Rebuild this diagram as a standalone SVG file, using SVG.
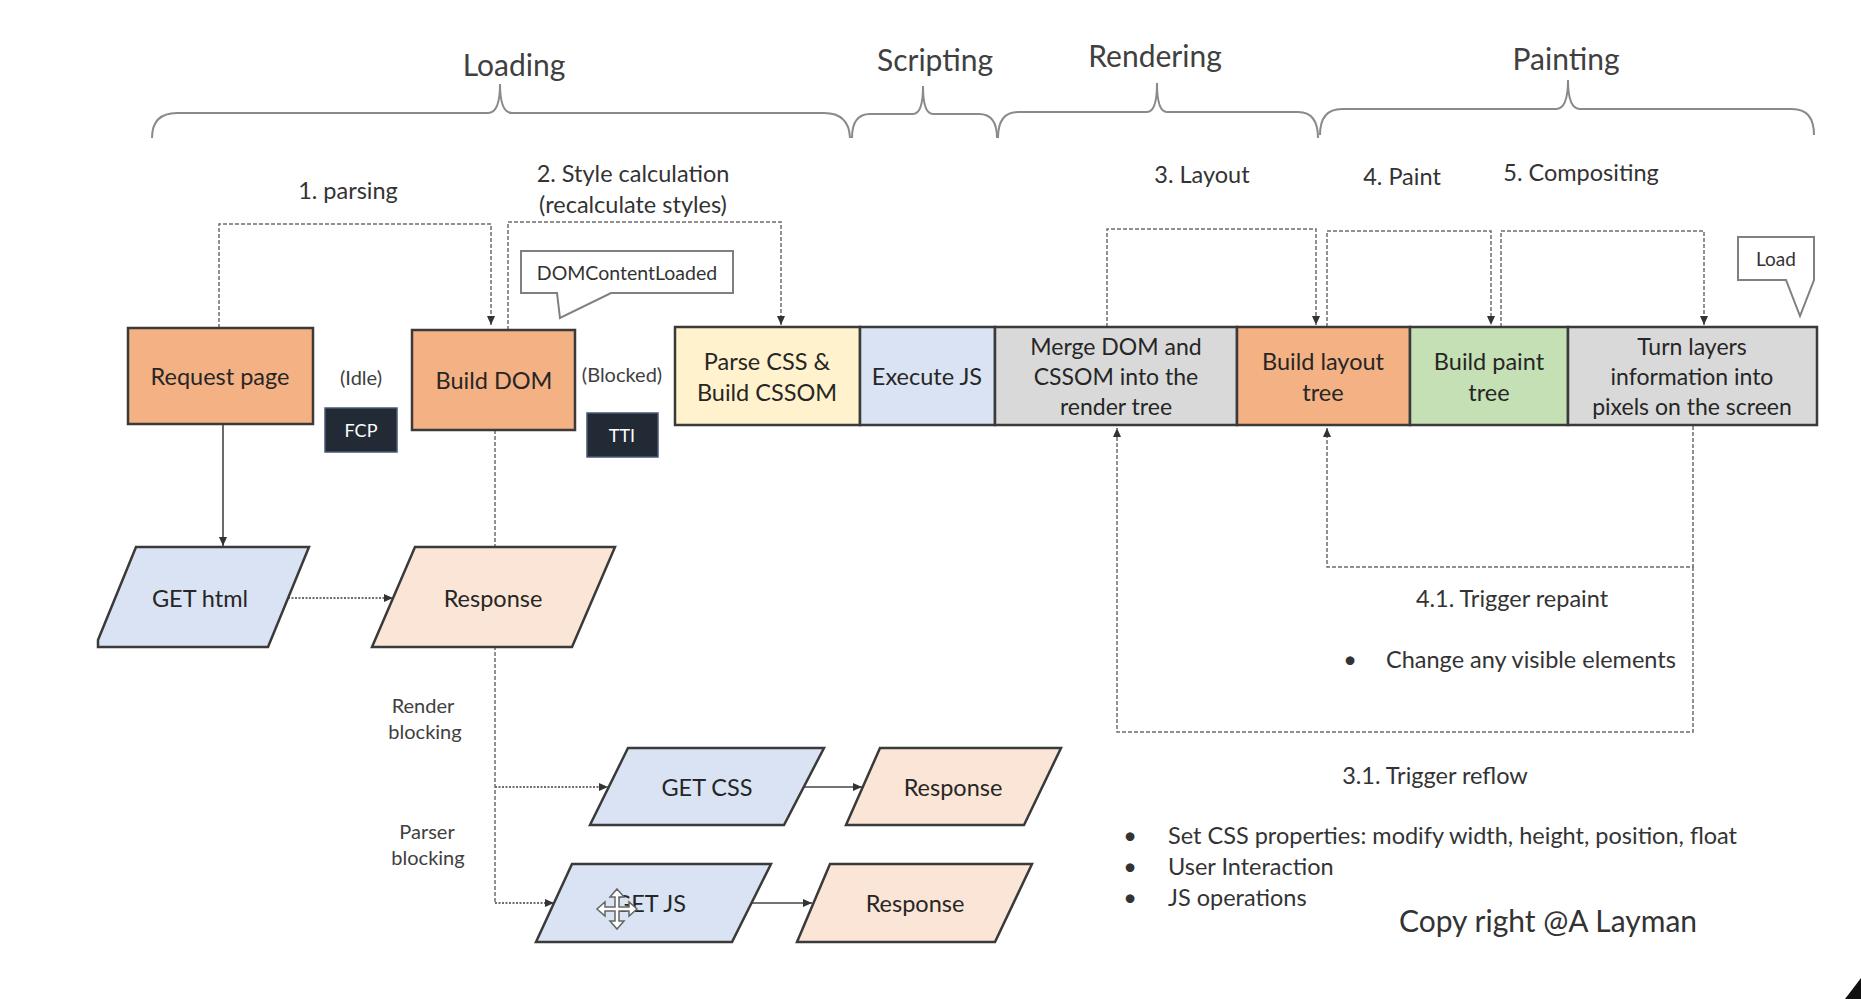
<svg xmlns="http://www.w3.org/2000/svg" width="1861" height="999" viewBox="0 0 1861 999">
<style>
text{font-family:Lato,"Open Sans","Liberation Sans",sans-serif;fill:#262626;}
.hdr{font-size:30px;fill:#404040;text-anchor:middle;dominant-baseline:central;}
.ph{font-size:23.5px;fill:#333;text-anchor:middle;dominant-baseline:central;}
.lbl{font-size:23.5px;text-anchor:middle;dominant-baseline:central;}
.sm{font-size:20px;fill:#404040;text-anchor:middle;dominant-baseline:central;}
.note{font-size:23.5px;fill:#333;dominant-baseline:central;}
.brace{fill:none;stroke:#8a8a8a;stroke-width:2;}
.box{stroke:#3a3a3a;stroke-width:2.5;}
.para{stroke:#3a3a3a;stroke-width:2.5;}
.dash{fill:none;stroke:#6e6e6e;stroke-width:1.5;stroke-dasharray:4 2;}
.dot{fill:none;stroke:#6e6e6e;stroke-width:2;stroke-dasharray:2 1.5;}
.solid{fill:none;stroke:#444;stroke-width:1.6;}
.call{fill:#fff;stroke:#808080;stroke-width:2;}
.orange{fill:#F4B183;}
.yellow{fill:#FFF2CC;}
.blue{fill:#DAE3F3;}
.gray{fill:#D9D9D9;}
.green{fill:#C5E0B4;}
.peach{fill:#FBE5D6;}
.dark{fill:#222A35;stroke:#4A5874;stroke-width:1.5;}
.wt{font-size:18px;fill:#fff;text-anchor:middle;dominant-baseline:central;}
</style>
<defs>
<marker id="ah" markerWidth="10" markerHeight="10" refX="9" refY="5" orient="auto" markerUnits="userSpaceOnUse">
<path d="M0,1 L9,5 L0,9 Z" fill="#333"/>
</marker>
</defs>
<rect width="1861" height="999" fill="#fff"/>

<g id="phases">
<text class="hdr" x="514" y="64">Loading</text>
<text class="hdr" x="935" y="59">Scripting</text>
<text class="hdr" x="1155" y="55">Rendering</text>
<text class="hdr" x="1566" y="58">Painting</text>
<path class="brace" d="M152,138 Q152,113 177,113 L488,113 Q500,113 500,84 Q500,113 512,113 L824,113 Q849,113 850,138"/>
<path class="brace" d="M852,138 Q852,114 870,114 L913,114 Q923,114 923,86 Q923,114 933,114 L979,114 Q997,114 997,138"/>
<path class="brace" d="M998,138 Q998,112 1018,112 L1147,112 Q1157,112 1157,83 Q1157,112 1167,112 L1298,112 Q1318,112 1318,138"/>
<path class="brace" d="M1320,135 Q1320,109 1342,109 L1556,109 Q1568,109 1568,80 Q1568,109 1580,109 L1792,109 Q1814,109 1814,135"/>
</g>

<g id="phase-labels">
<text class="ph" x="348" y="190">1. parsing</text>
<text class="ph" x="633" y="173">2. Style calculation</text>
<text class="ph" x="633" y="204">(recalculate styles)</text>
<text class="ph" x="1202" y="174">3. Layout</text>
<text class="ph" x="1402" y="176">4. Paint</text>
<text class="ph" x="1581" y="172">5. Compositing</text>
</g>

<g id="connectors">
<path class="dash" d="M219,328 V224 H491 V325" marker-end="url(#ah)"/>
<path class="dash" d="M508,330 V222 H781 V325" marker-end="url(#ah)"/>
<path class="dash" d="M1107,327 V229 H1316 V325" marker-end="url(#ah)"/>
<path class="dash" d="M1327,327 V231 H1491 V325" marker-end="url(#ah)"/>
<path class="dash" d="M1501,327 V231 H1704 V325" marker-end="url(#ah)"/>
<path class="dash" d="M1693,426 V567 H1327 V428" marker-end="url(#ah)"/>
<path class="dash" d="M1693,567 V732 H1117 V428" marker-end="url(#ah)"/>
<path class="solid" d="M223,424 V546" marker-end="url(#ah)"/>
<path class="dot" d="M288,598 H393" marker-end="url(#ah)"/>
<path class="dash" d="M495,430 V903"/>
<path class="dot" d="M495,787 H608" marker-end="url(#ah)"/>
<path class="dot" d="M495,903 H554" marker-end="url(#ah)"/>
<path class="solid" d="M804,787 H862" marker-end="url(#ah)"/>
<path class="solid" d="M752,903 H812" marker-end="url(#ah)"/>
</g>

<g id="dom-content-loaded">
<path class="call" d="M521,251 H733 V293 H611 L560,318 L557,293 H521 Z"/>
<text class="sm" x="627" y="272" style="fill:#333;font-size:19.5px">DOMContentLoaded</text>
</g>

<g id="load-callout">
<path class="call" d="M1738,237 H1814 V280 L1800,316 L1786,280 H1738 Z"/>
<text class="sm" x="1776" y="258" style="fill:#333;font-size:19px">Load</text>
</g>

<g id="request-page">
<rect class="box orange" x="128" y="328" width="185" height="96"/>
<text class="lbl" x="220" y="376">Request page</text>
</g>
<g id="idle"><text class="sm" x="361" y="377">(Idle)</text></g>
<g id="fcp">
<rect class="dark" x="325" y="408" width="72" height="44"/>
<text class="wt" x="361" y="430">FCP</text>
</g>
<g id="build-dom">
<rect class="box orange" x="412" y="330" width="163" height="100"/>
<text class="lbl" x="494" y="380">Build DOM</text>
</g>
<g id="blocked"><text class="sm" x="622" y="374">(Blocked)</text></g>
<g id="tti">
<rect class="dark" x="587" y="413" width="71" height="44"/>
<text class="wt" x="622" y="435">TTI</text>
</g>
<g id="parse-css">
<rect class="box yellow" x="675" y="327" width="185" height="98"/>
<text class="lbl" x="767" y="361">Parse CSS &amp;</text>
<text class="lbl" x="767" y="392">Build CSSOM</text>
</g>
<g id="execute-js">
<rect class="box blue" x="860" y="327" width="135" height="98"/>
<text class="lbl" x="927" y="376">Execute JS</text>
</g>
<g id="merge">
<rect class="box gray" x="995" y="327" width="242" height="98"/>
<text class="lbl" x="1116" y="346" style="font-size:23px">Merge DOM and</text>
<text class="lbl" x="1116" y="376" style="font-size:23px">CSSOM into the</text>
<text class="lbl" x="1116" y="406" style="font-size:23px">render tree</text>
</g>
<g id="build-layout">
<rect class="box orange" x="1237" y="327" width="173" height="98"/>
<text class="lbl" x="1323" y="361">Build layout</text>
<text class="lbl" x="1323" y="392">tree</text>
</g>
<g id="build-paint">
<rect class="box green" x="1410" y="327" width="158" height="98"/>
<text class="lbl" x="1489" y="361">Build paint</text>
<text class="lbl" x="1489" y="392">tree</text>
</g>
<g id="turn-layers">
<rect class="box gray" x="1568" y="327" width="249" height="98"/>
<text class="lbl" x="1692" y="346" style="font-size:23px">Turn layers</text>
<text class="lbl" x="1692" y="376" style="font-size:23px">information into</text>
<text class="lbl" x="1692" y="406" style="font-size:23px">pixels on the screen</text>
</g>

<g id="get-html">
<polygon class="para blue" points="136,547 309,547 268,647 98,647 98,640"/>
<text class="lbl" x="200" y="598">GET html</text>
</g>
<g id="response-html">
<polygon class="para peach" points="415,547 615,547 572,647 372,647"/>
<text class="lbl" x="493" y="598">Response</text>
</g>
<g id="render-blocking">
<text class="sm" x="423" y="705">Render</text>
<text class="sm" x="425" y="731">blocking</text>
</g>
<g id="parser-blocking">
<text class="sm" x="427" y="831">Parser</text>
<text class="sm" x="428" y="857">blocking</text>
</g>
<g id="get-css">
<polygon class="para blue" points="628,748 824,748 784,825 590,825"/>
<text class="lbl" x="707" y="787">GET CSS</text>
</g>
<g id="response-css">
<polygon class="para peach" points="880,748 1061,748 1024,825 846,825"/>
<text class="lbl" x="953" y="787">Response</text>
</g>
<g id="get-js">
<polygon class="para blue" points="572,864 771,864 732,942 536,942"/>
<text class="lbl" x="650" y="903">GET JS</text>
</g>
<g id="response-js">
<polygon class="para peach" points="830,864 1032,864 995,942 797,942"/>
<text class="lbl" x="915" y="903">Response</text>
</g>
<g id="cursor">
<polygon points="617,889 624,897 619,897 619,907 629,907 629,902 637,909 629,916 629,911 619,911 619,921 624,921 617,929 610,921 615,921 615,911 605,911 605,916 597,909 605,902 605,907 615,907 615,897 610,897" fill="#fff" stroke="#666" stroke-width="1.5"/>
</g>

<g id="repaint-note">
<text class="ph" x="1512" y="598">4.1. Trigger repaint</text>
<text class="note" x="1350" y="659" text-anchor="middle">•</text>
<text class="note" x="1386" y="659">Change any visible elements</text>
</g>
<g id="reflow-note">
<text class="ph" x="1435" y="775">3.1. Trigger reflow</text>
<text class="note" x="1130" y="835" text-anchor="middle">•</text>
<text class="note" x="1168" y="835">Set CSS properties: modify width, height, position, float</text>
<text class="note" x="1130" y="866" text-anchor="middle">•</text>
<text class="note" x="1168" y="866">User Interaction</text>
<text class="note" x="1130" y="897" text-anchor="middle">•</text>
<text class="note" x="1168" y="897">JS operations</text>
</g>
<g id="copyright">
<text x="1548" y="920" style="font-size:30px;text-anchor:middle;dominant-baseline:central;fill:#333">Copy right @A Layman</text>
</g>
<polygon points="1861,978 1861,999 1845,999" fill="#111"/>
</svg>
